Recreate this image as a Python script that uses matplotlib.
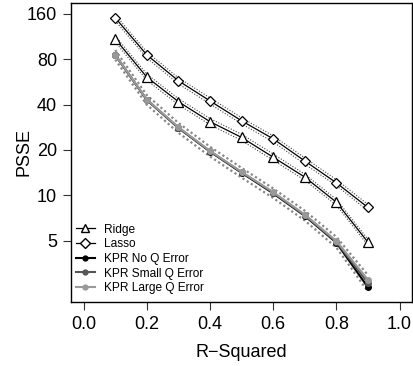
import numpy as np
import matplotlib
matplotlib.use("Agg")
import matplotlib.pyplot as plt
from matplotlib.lines import Line2D

plt.rcParams['font.family'] = ['Liberation Sans', 'DejaVu Sans']

# data
r2 = [0.1, 0.2, 0.3, 0.4, 0.5, 0.6, 0.7, 0.8, 0.9]
ridge = [109, 60.8, 41.8, 30.8, 24.2, 17.9, 13.2, 9.0, 4.88]
lasso = [150.5, 85.4, 57.5, 42.3, 31.2, 23.7, 16.9, 12.1, 8.3]
kpr_noq = [85.4, 42.9, 28.0, 19.5, 14.1, 10.3, 7.3, 4.85, 2.45]
kpr_small = [85.0, 43.0, 28.1, 19.6, 14.2, 10.4, 7.35, 4.9, 2.62]
kpr_large = [85.6, 43.2, 28.3, 19.7, 14.3, 10.5, 7.45, 4.98, 2.75]

# confidence bounds (dotted)
ridge_lo = [104, 58.0, 39.9, 29.4, 23.1, 17.1, 12.6, 8.6, 4.66]
ridge_hi = [114, 63.7, 43.8, 32.3, 25.4, 18.8, 13.8, 9.4, 5.1]
lasso_lo = [143.7, 81.5, 54.9, 40.4, 29.8, 22.6, 16.1, 11.6, 7.9]
lasso_hi = [157.6, 89.4, 60.2, 44.3, 32.7, 24.8, 17.7, 12.7, 8.7]
kpr_lo = [79.5, 39.9, 26.0, 18.1, 13.1, 9.6, 6.8, 4.5, 2.3]
kpr_hi = [92.0, 46.2, 30.2, 21.0, 15.2, 11.1, 7.9, 5.3, 2.95]

yticks = [5, 10, 20, 40, 80, 160]
xticks = [0.0, 0.2, 0.4, 0.6, 0.8, 1.0]

fig = plt.figure(figsize=(4.13, 3.66), dpi=100)
ax = fig.add_axes([0.172, 0.175, 0.826, 0.817])
ax.set_yscale('log')

# bands
for lo, hi in [(ridge_lo, ridge_hi), (lasso_lo, lasso_hi)]:
    ax.plot(r2, lo, ls=(0, (1, 1.5)), color='#444444', lw=0.8)
    ax.plot(r2, hi, ls=(0, (1, 1.5)), color='#444444', lw=0.8)
for lo, hi in [(kpr_lo, kpr_hi)]:
    ax.plot(r2, lo, ls=(0, (1, 1.2)), color='#888888', lw=1.6)
    ax.plot(r2, hi, ls=(0, (1, 1.2)), color='#888888', lw=1.6)

ax.plot(r2, ridge, color='black', lw=0.9, marker='^', mfc='white', mec='black', ms=7, mew=0.9)
ax.plot(r2, lasso, color='black', lw=0.9, marker='D', mfc='white', mec='black', ms=5.5, mew=0.9)
ax.plot(r2, kpr_noq, color='black', lw=1.5, marker='o', ms=4)
ax.plot(r2, kpr_small, color='#555555', lw=1.5, marker='o', ms=4)
ax.plot(r2, kpr_large, color='#999999', lw=1.5, marker='o', ms=4)

ax.set_xlim(-0.04, 1.04)
ax.set_ylim(1.96, 189)
ax.set_xticks(xticks)
ax.set_xticklabels(['%.1f' % t for t in xticks])
ax.set_yticks(yticks)
ax.set_yticklabels([str(t) for t in yticks])
ax.yaxis.set_minor_locator(matplotlib.ticker.NullLocator())
ax.tick_params(labelsize=13, length=6, width=0.8, direction='out', color='#333333', pad=4)
for s in ax.spines.values():
    s.set_linewidth(1.0)

ax.set_xlabel('R\u2212Squared', fontsize=13, labelpad=8)
ax.set_ylabel('PSSE', fontsize=13, labelpad=-4)

handles = [
    Line2D([], [], color='black', lw=0.9, marker='^', mfc='white', mec='black', ms=6),
    Line2D([], [], color='black', lw=0.9, marker='D', mfc='white', mec='black', ms=5),
    Line2D([], [], color='black', lw=1.5, marker='o', ms=3.5),
    Line2D([], [], color='#555555', lw=1.5, marker='o', ms=3.5),
    Line2D([], [], color='#999999', lw=1.5, marker='o', ms=3.5),
]
labels = ['Ridge', 'Lasso', 'KPR No Q Error', 'KPR Small Q Error', 'KPR Large Q Error']
ax.legend(handles, labels, loc='lower left', frameon=False, fontsize=8.6,
          handlelength=1.6, handletextpad=0.8, labelspacing=0.22,
          borderaxespad=0.0, bbox_to_anchor=(0.0, 0.01))

fig.savefig('out.png', dpi=100)
